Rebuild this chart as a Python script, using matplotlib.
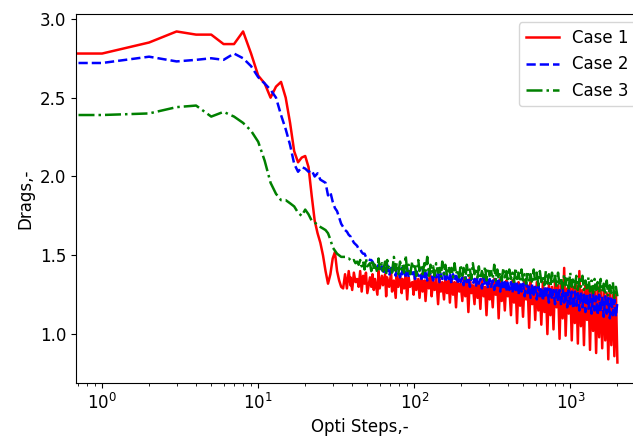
import numpy as np
import matplotlib
matplotlib.use('Agg')
import matplotlib.pyplot as plt

# early optimisation steps 0..35, one value per step
early_case1 = [2.78, 2.78, 2.85, 2.92, 2.90, 2.90, 2.84, 2.84, 2.92, 2.78,
               2.64, 2.59, 2.50, 2.57, 2.60, 2.50, 2.34, 2.16, 2.09, 2.12,
               2.13, 2.06, 1.88, 1.72, 1.64, 1.58, 1.50, 1.40, 1.32, 1.38,
               1.48, 1.52, 1.40, 1.34, 1.30, 1.29]
early_case2 = [2.72, 2.72, 2.76, 2.73, 2.74, 2.75, 2.74, 2.78, 2.75, 2.70,
               2.63, 2.59, 2.55, 2.50, 2.39, 2.30, 2.20, 2.08, 2.03, 2.06,
               2.05, 2.03, 2.04, 2.00, 2.02, 1.98, 1.97, 1.96, 1.88, 1.90,
               1.84, 1.80, 1.78, 1.74, 1.70, 1.68]
early_case3 = [2.39, 2.39, 2.40, 2.44, 2.45, 2.38, 2.41, 2.38, 2.34, 2.29,
               2.22, 2.10, 1.96, 1.89, 1.85, 1.85, 1.83, 1.81, 1.77, 1.75,
               1.79, 1.76, 1.72, 1.71, 1.69, 1.68, 1.67, 1.66, 1.64, 1.60,
               1.55, 1.53, 1.51, 1.50, 1.49, 1.49]

# later steps (36..2000), read on a log-spaced subset of the steps
tail_case1 = [
    1.38, 1.29, 1.40, 1.31, 1.36, 1.28, 1.39, 1.33, 1.35, 1.30,
    1.40, 1.27, 1.37, 1.32, 1.39, 1.26, 1.36, 1.30, 1.38, 1.28,
    1.35, 1.25, 1.40, 1.29, 1.37, 1.31, 1.38, 1.24, 1.36, 1.30,
    1.39, 1.27, 1.34, 1.23, 1.37, 1.30, 1.38, 1.26, 1.35, 1.29,
    1.38, 1.22, 1.36, 1.30, 1.33, 1.25, 1.37, 1.28, 1.35, 1.23,
    1.38, 1.27, 1.34, 1.21, 1.36, 1.29, 1.37, 1.24, 1.33, 1.28,
    1.37, 1.19, 1.35, 1.27, 1.33, 1.22, 1.36, 1.26, 1.34, 1.20,
    1.36, 1.25, 1.33, 1.17, 1.35, 1.27, 1.32, 1.21, 1.36, 1.24,
    1.34, 1.14, 1.36, 1.26, 1.31, 1.19, 1.35, 1.23, 1.33, 1.16,
    1.35, 1.24, 1.30, 1.12, 1.34, 1.22, 1.32, 1.17, 1.35, 1.25,
    1.33, 1.10, 1.35, 1.21, 1.31, 1.15, 1.34, 1.24, 1.30, 1.12,
    1.34, 1.20, 1.32, 1.07, 1.33, 1.18, 1.29, 1.11, 1.34, 1.22,
    1.31, 1.04, 1.33, 1.19, 1.30, 1.09, 1.33, 1.15, 1.28, 1.06,
    1.33, 1.14, 1.29, 1.00, 1.32, 1.12, 1.30, 1.03, 1.33, 1.17,
    1.31, 0.97, 1.32, 1.10, 1.42, 0.99, 1.29, 1.13, 1.31, 0.96,
    1.30, 1.07, 1.31, 0.94, 1.40, 1.05, 1.28, 0.93, 1.31, 1.09,
    1.29, 0.90, 1.30, 1.02, 1.27, 0.88, 1.30, 0.98, 1.28, 0.91,
    1.28, 0.96, 1.26, 0.84, 1.28, 0.93, 1.25, 0.86, 1.27, 0.82]
tail_case2 = [
    1.66, 1.65, 1.63, 1.62, 1.61, 1.60, 1.58, 1.57, 1.56, 1.54,
    1.54, 1.52, 1.51, 1.51, 1.49, 1.48, 1.47, 1.47, 1.46, 1.44,
    1.45, 1.42, 1.44, 1.40, 1.43, 1.38, 1.42, 1.40, 1.44, 1.37,
    1.42, 1.39, 1.43, 1.37, 1.41, 1.40, 1.36, 1.42, 1.38, 1.41,
    1.37, 1.42, 1.36, 1.40, 1.38, 1.41, 1.35, 1.40, 1.37, 1.39,
    1.35, 1.41, 1.36, 1.39, 1.34, 1.40, 1.37, 1.38, 1.34, 1.40,
    1.36, 1.39, 1.33, 1.38, 1.35, 1.39, 1.33, 1.37, 1.35, 1.38,
    1.32, 1.38, 1.34, 1.37, 1.32, 1.38, 1.33, 1.36, 1.31, 1.37,
    1.33, 1.36, 1.30, 1.37, 1.32, 1.35, 1.30, 1.36, 1.32, 1.35,
    1.29, 1.36, 1.31, 1.34, 1.29, 1.35, 1.30, 1.34, 1.28, 1.35,
    1.30, 1.34, 1.27, 1.35, 1.29, 1.33, 1.27, 1.34, 1.28, 1.33,
    1.26, 1.34, 1.28, 1.32, 1.25, 1.33, 1.27, 1.32, 1.24, 1.33,
    1.26, 1.31, 1.23, 1.32, 1.25, 1.30, 1.22, 1.31, 1.24, 1.30,
    1.21, 1.30, 1.23, 1.29, 1.20, 1.30, 1.22, 1.28, 1.19, 1.29,
    1.21, 1.28, 1.18, 1.29, 1.20, 1.27, 1.17, 1.28, 1.19, 1.27,
    1.16, 1.27, 1.18, 1.26, 1.15, 1.27, 1.17, 1.25, 1.14, 1.26,
    1.16, 1.25, 1.13, 1.26, 1.15, 1.24, 1.12, 1.25, 1.14, 1.24,
    1.11, 1.24, 1.13, 1.23, 1.10, 1.24, 1.12, 1.22, 1.11, 1.21]
tail_case3 = [
    1.49, 1.48, 1.48, 1.47, 1.47, 1.46, 1.47, 1.45, 1.46, 1.44,
    1.47, 1.43, 1.46, 1.41, 1.48, 1.43, 1.45, 1.40, 1.47, 1.42,
    1.44, 1.39, 1.48, 1.41, 1.45, 1.40, 1.46, 1.38, 1.47, 1.42,
    1.43, 1.39, 1.49, 1.40, 1.45, 1.38, 1.46, 1.41, 1.44, 1.39,
    1.50, 1.40, 1.44, 1.38, 1.46, 1.41, 1.43, 1.37, 1.47, 1.40,
    1.44, 1.38, 1.45, 1.40, 1.49, 1.37, 1.44, 1.39, 1.43, 1.37,
    1.45, 1.39, 1.42, 1.36, 1.46, 1.38, 1.44, 1.37, 1.43, 1.39,
    1.42, 1.36, 1.45, 1.38, 1.41, 1.36, 1.44, 1.37, 1.42, 1.35,
    1.44, 1.37, 1.41, 1.35, 1.45, 1.38, 1.42, 1.36, 1.43, 1.35,
    1.40, 1.36, 1.43, 1.34, 1.42, 1.37, 1.40, 1.35, 1.44, 1.34,
    1.41, 1.35, 1.39, 1.34, 1.42, 1.36, 1.40, 1.33, 1.41, 1.35,
    1.39, 1.33, 1.42, 1.35, 1.39, 1.33, 1.41, 1.34, 1.38, 1.32,
    1.40, 1.34, 1.38, 1.32, 1.41, 1.33, 1.39, 1.31, 1.40, 1.33,
    1.37, 1.31, 1.40, 1.32, 1.38, 1.30, 1.39, 1.32, 1.37, 1.30,
    1.39, 1.31, 1.36, 1.29, 1.38, 1.31, 1.37, 1.29, 1.39, 1.30,
    1.36, 1.29, 1.37, 1.28, 1.35, 1.30, 1.37, 1.28, 1.34, 1.29,
    1.36, 1.27, 1.34, 1.26, 1.35, 1.28, 1.33, 1.26, 1.35, 1.27,
    1.32, 1.25, 1.34, 1.24, 1.31, 1.26, 1.33, 1.23, 1.30, 1.24]

labels = ['Case 1', 'Case 2', 'Case 3']

steps = np.concatenate([np.arange(len(early_case1)),
                        np.round(np.geomspace(36, 2000, len(tail_case1)))])
case1 = np.array(early_case1 + tail_case1)
case2 = np.array(early_case2 + tail_case2)
case3 = np.array(early_case3 + tail_case3)

plt.rcParams['font.size'] = 12

fig = plt.figure(figsize=(6.33, 4.36), dpi=100)
ax = fig.add_axes([0.120, 0.1216, 0.897, 0.846])
ax.plot(steps, case1, 'r-', lw=1.8, label=labels[0])
ax.plot(steps, case2, 'b--', lw=1.8, label=labels[1])
ax.plot(steps, case3, 'g-.', lw=1.8, label=labels[2])
ax.set_xscale('log')
ax.set_xlim(0.68, 2950)
ax.set_ylim(0.69, 3.03)
ax.set_yticks([1.0, 1.5, 2.0, 2.5, 3.0])
ax.set_xlabel('Opti Steps,-')
ax.set_ylabel('Drags,-')
ax.legend(loc='upper right')
fig.savefig('out.png', dpi=100)
